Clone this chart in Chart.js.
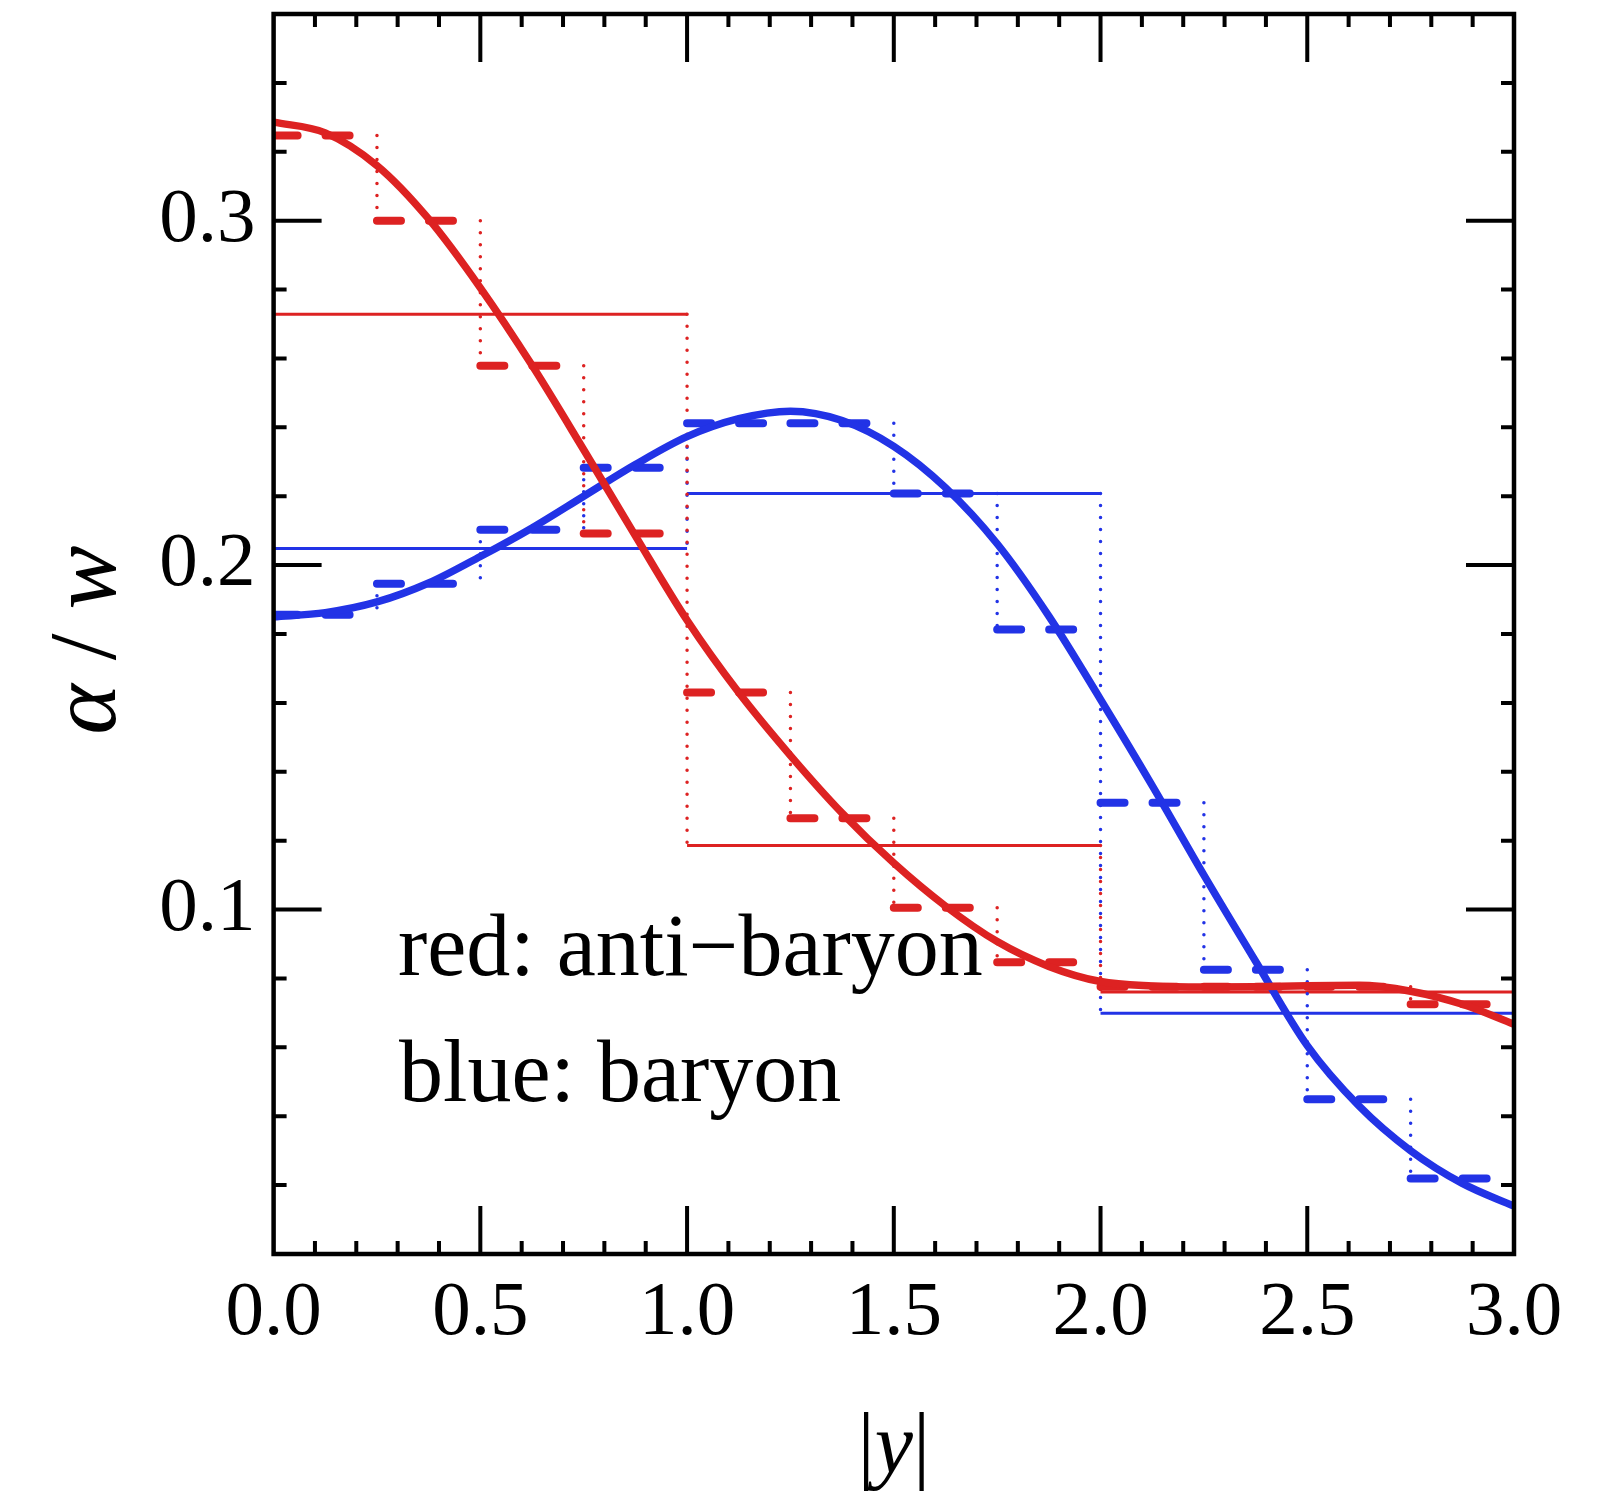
<!DOCTYPE html>
<html>
<head>
<meta charset="utf-8">
<script src="https://cdn.jsdelivr.net/npm/chart.js@4.4.1/dist/chart.umd.min.js"></script>
<style>
  html, body { margin: 0; padding: 0; background: #fff; }
  canvas { display: block; }
</style>
</head>
<body>
<canvas id="chart" width="1619" height="1497" style="width:1619px;height:1497px"></canvas>
<script>
const curveX = [0, 0.125, 0.25, 0.375, 0.5, 0.625, 0.75, 0.875, 1.0, 1.125, 1.25, 1.375, 1.5,
  1.625, 1.75, 1.875, 2.0, 2.125, 2.25, 2.375, 2.5, 2.625, 2.75, 2.875, 3.0];
const antiBaryonCurve = [0.3286, 0.3255, 0.316, 0.3005, 0.2805, 0.258, 0.2335, 0.2085, 0.184, 0.163,
  0.1447, 0.128, 0.1135, 0.101, 0.0907, 0.0835, 0.0791, 0.0778, 0.0775, 0.0776, 0.0779, 0.078,
  0.0763, 0.0725, 0.0667];
const baryonCurve = [0.185, 0.1862, 0.1893, 0.1948, 0.2025, 0.2108, 0.22, 0.2292, 0.2373, 0.2425,
  0.2447, 0.242, 0.2345, 0.2225, 0.2062, 0.1852, 0.161, 0.136, 0.11, 0.085, 0.0605, 0.043,
  0.030, 0.0205, 0.0139];

// fine bins (width 0.25) -> dashed steps
const fineEdges = [0, 0.25, 0.5, 0.75, 1.0, 1.25, 1.5, 1.75, 2.0, 2.25, 2.5, 2.75, 3.0];
const antiBaryonFine = [0.3247, 0.300, 0.2579, 0.2092, 0.163, 0.1265, 0.1005, 0.0847, 0.0776, 0.0776, 0.0776, 0.0725];
const baryonFine = [0.1856, 0.1946, 0.2103, 0.2283, 0.2412, 0.2412, 0.2208, 0.1813, 0.131, 0.0825, 0.0449, 0.0219];

// coarse bins (width 1) -> thin solid steps
const coarseEdges = [0, 1, 2, 3];
const antiBaryonCoarse = [0.2728, 0.1186, 0.0761];
const baryonCoarse = [0.2048, 0.2208, 0.0699];

// tick labels
const xTickValues = [0, 0.5, 1, 1.5, 2, 2.5, 3];
const xTickLabels = ["0.0", "0.5", "1.0", "1.5", "2.0", "2.5", "3.0"];
const yTickValues = [0.1, 0.2, 0.3];
const yTickLabels = ["0.1", "0.2", "0.3"];

const RED = "#dd2222";
const BLUE = "#2233e6";
const SERIF = "'Liberation Serif', 'Times New Roman', serif";

function labelFor(v, values, labels) {
  const i = values.findIndex((t) => Math.abs(t - v) < 1e-6);
  return i >= 0 ? labels[i] : "";
}

function curvePoints(vals) {
  return curveX.map((x, i) => ({ x: x, y: vals[i] }));
}

// horizontal pieces, separated by gaps
function stepPoints(edges, vals) {
  const pts = [];
  vals.forEach((v, i) => {
    pts.push({ x: edges[i], y: v }, { x: edges[i + 1], y: v }, { x: edges[i + 1], y: null });
  });
  return pts;
}

// dotted vertical connectors at each bin edge
function riserPoints(fine, coarse) {
  const pts = [];
  for (let i = 1; i < fine.length; i++) {
    const x = fineEdges[i];
    const lv = [fine[i - 1], fine[i]];
    const j = coarseEdges.indexOf(x);
    if (j > 0 && j < coarse.length) lv.push(coarse[j - 1], coarse[j]);
    pts.push({ x: x, y: Math.max(...lv) }, { x: x, y: Math.min(...lv) }, { x: x, y: null });
  }
  return pts;
}

function lineSet(data, color, width, extra) {
  return Object.assign({
    data: data,
    borderColor: color,
    borderWidth: width,
    pointRadius: 0,
    fill: false,
    spanGaps: false,
    tension: 0
  }, extra || {});
}

// frame, inward ticks, legend text and axis titles
const decorPlugin = {
  id: "decor",
  afterDatasetsDraw(chart) {
    const { ctx, chartArea: a, scales } = chart;
    const xs = scales.x, ys = scales.y;
    ctx.save();
    ctx.strokeStyle = "#000";
    ctx.lineCap = "butt";
    ctx.lineWidth = 4;
    ctx.beginPath();
    xs.ticks.forEach((t) => {
      if (t.value <= xs.min + 1e-9 || t.value >= xs.max - 1e-9) return;
      const px = xs.getPixelForValue(t.value);
      const major = Math.abs(t.value * 2 - Math.round(t.value * 2)) < 1e-6;
      const len = major ? 48 : 13;
      ctx.moveTo(px, a.bottom); ctx.lineTo(px, a.bottom - len);
      ctx.moveTo(px, a.top); ctx.lineTo(px, a.top + len);
    });
    ys.ticks.forEach((t) => {
      if (t.value <= ys.min + 1e-9 || t.value >= ys.max - 1e-9) return;
      const py = ys.getPixelForValue(t.value);
      const major = Math.abs(t.value * 10 - Math.round(t.value * 10)) < 1e-6;
      const len = major ? 48 : 13;
      ctx.moveTo(a.left, py); ctx.lineTo(a.left + len, py);
      ctx.moveTo(a.right, py); ctx.lineTo(a.right - len, py);
    });
    ctx.stroke();
    ctx.lineWidth = 4.5;
    ctx.strokeRect(a.left, a.top, a.right - a.left, a.bottom - a.top);

    // in-plot legend text
    ctx.fillStyle = "#000";
    ctx.textAlign = "left";
    ctx.textBaseline = "alphabetic";
    ctx.font = "88px " + SERIF;
    ctx.fillText("red: anti\u2212baryon", 398, 975);
    ctx.fillText("blue: baryon", 399, 1101);

    // x title |y|
    const cx = (a.left + a.right) / 2;
    const base = 1472;
    ctx.font = "86px " + SERIF;
    const wBar = ctx.measureText("|").width;
    ctx.font = "italic 86px " + SERIF;
    const wY = ctx.measureText("y").width;
    const sx = cx - (2 * wBar + wY) / 2;
    ctx.font = "86px " + SERIF;
    ctx.fillText("|", sx, base);
    ctx.font = "italic 86px " + SERIF;
    ctx.fillText("y", sx + wBar, base);
    ctx.font = "86px " + SERIF;
    ctx.fillText("|", sx + wBar + wY, base);

    // y title alpha / w
    ctx.translate(115, 640);
    ctx.rotate(-Math.PI / 2);
    const parts = [["\u03b1", true], [" / ", false], ["w", true]];
    let total = 0;
    parts.forEach((p) => {
      ctx.font = (p[1] ? "italic " : "") + "96px " + SERIF;
      total += ctx.measureText(p[0]).width;
    });
    let px = -total / 2;
    parts.forEach((p) => {
      ctx.font = (p[1] ? "italic " : "") + "96px " + SERIF;
      ctx.fillText(p[0], px, 0);
      px += ctx.measureText(p[0]).width;
    });
    ctx.restore();
  }
};

const ctx = document.getElementById("chart").getContext("2d");
new Chart(ctx, {
  type: "line",
  data: {
    datasets: [
      lineSet(curvePoints(antiBaryonCurve), RED, 7.5, { cubicInterpolationMode: "monotone", borderCapStyle: "round" }),
      lineSet(curvePoints(baryonCurve), BLUE, 7.5, { cubicInterpolationMode: "monotone", borderCapStyle: "round" }),
      lineSet(stepPoints(fineEdges, antiBaryonFine), RED, 8, { borderDash: [24, 28], borderCapStyle: "round" }),
      lineSet(stepPoints(fineEdges, baryonFine), BLUE, 8, { borderDash: [24, 28], borderCapStyle: "round" }),
      lineSet(riserPoints(antiBaryonFine, antiBaryonCoarse), RED, 3.5, { borderDash: [0, 12], borderCapStyle: "round" }),
      lineSet(riserPoints(baryonFine, baryonCoarse), BLUE, 3.5, { borderDash: [0, 12], borderCapStyle: "round" }),
      lineSet(stepPoints(coarseEdges, antiBaryonCoarse), RED, 3),
      lineSet(stepPoints(coarseEdges, baryonCoarse), BLUE, 3)
    ]
  },
  options: {
    responsive: false,
    animation: false,
    events: [],
    layout: { padding: { top: 14, right: 105, left: 0, bottom: 0 } },
    plugins: { legend: { display: false }, tooltip: { enabled: false } },
    scales: {
      x: {
        type: "linear",
        min: 0,
        max: 3,
        grid: { display: false, drawTicks: false },
        border: { display: false },
        afterFit: (s) => { s.height = 243; s.paddingLeft = 0; s.paddingRight = 0; },
        ticks: {
          stepSize: 0.1,
          maxTicksLimit: 100,
          autoSkip: false,
          maxRotation: 0,
          padding: 14,
          color: "#000",
          font: { family: SERIF, size: 77 },
          callback: (v) => labelFor(v, xTickValues, xTickLabels)
        }
      },
      y: {
        type: "linear",
        min: 0,
        max: 0.36,
        grid: { display: false, drawTicks: false },
        border: { display: false },
        afterFit: (s) => { s.width = 273.6; s.paddingTop = 0; s.paddingBottom = 0; },
        ticks: {
          stepSize: 0.02,
          maxTicksLimit: 100,
          autoSkip: false,
          padding: 18,
          color: "#000",
          font: { family: SERIF, size: 77 },
          callback: (v) => labelFor(v, yTickValues, yTickLabels)
        }
      }
    }
  },
  plugins: [decorPlugin]
});
</script>
</body>
</html>
